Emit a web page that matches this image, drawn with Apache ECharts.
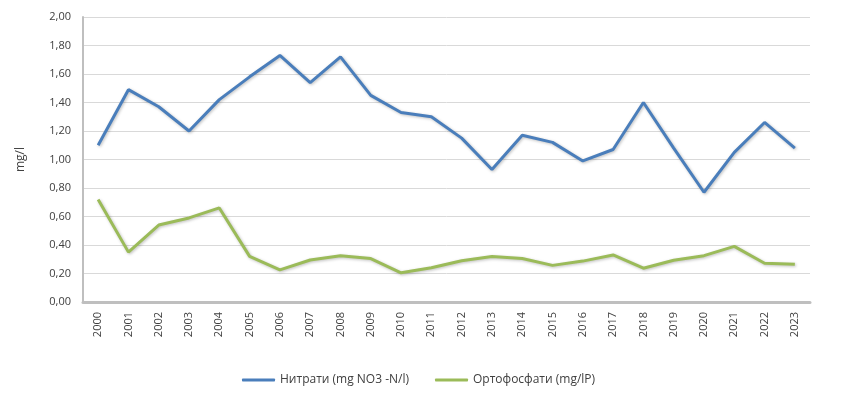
<!DOCTYPE html>
<html>
<head>
<meta charset="utf-8">
<script src="https://cdn.jsdelivr.net/npm/echarts@6/dist/echarts.min.js"></script>
<style>
  html, body { margin: 0; padding: 0; background: #fff; }
  #chart { width: 846px; height: 399px; }
</style>
</head>
<body>
<div id="chart"></div>
<script>
// years on the category axis
const years = ['2000', '2001', '2002', '2003', '2004', '2005', '2006', '2007', '2008', '2009', '2010', '2011',
  '2012', '2013', '2014', '2015', '2016', '2017', '2018', '2019', '2020', '2021', '2022', '2023']

// Нитрати (mg NO3 -N/l)
const nitrates = [1.10, 1.49, 1.37, 1.20, 1.42, 1.58, 1.73, 1.54, 1.72, 1.45, 1.33, 1.30,
  1.15, 0.93, 1.17, 1.12, 0.99, 1.07, 1.40, 1.08, 0.77, 1.05, 1.26, 1.08]

// Ортофосфати (mg/lP)
const phosphates = [0.72, 0.35, 0.54, 0.59, 0.66, 0.32, 0.225, 0.295, 0.325, 0.305, 0.205, 0.24,
  0.29, 0.32, 0.305, 0.257, 0.287, 0.33, 0.237, 0.293, 0.325, 0.39, 0.272, 0.265]

const seriesNames = ['Нитрати (mg NO3 -N/l)', 'Ортофосфати (mg/lP)']

const font = '"Open Sans", "Liberation Sans", sans-serif'
const chart = echarts.init(document.getElementById('chart'))

const lineSeries = (name, data, color) => ({
  name,
  type: 'line',
  data,
  showSymbol: false,
  symbol: 'none',
  lineStyle: {
    color,
    width: 3,
    shadowColor: 'rgba(0, 0, 0, 0.25)',
    shadowBlur: 3,
    shadowOffsetX: 1,
    shadowOffsetY: 1,
  },
  itemStyle: { color },
})

chart.setOption({
  animation: false,
  textStyle: { fontFamily: font },
  grid: {
    left: 83,
    right: 36,
    top: 17,
    bottom: 97,
  },
  legend: {
    bottom: 8,
    left: 237,
    itemWidth: 33,
    itemHeight: 3,
    itemGap: 26,
    icon: 'roundRect',
    textStyle: { fontSize: 12, color: '#404040', fontFamily: font },
    data: seriesNames,
  },
  xAxis: {
    type: 'category',
    data: years,
    boundaryGap: true,
    axisLine: { lineStyle: { color: '#bfbfbf', width: 3 } },
    axisTick: { show: false },
    axisLabel: {
      rotate: 90,
      color: '#404040',
      fontSize: 11,
      margin: 10,
      interval: 0,
    },
  },
  yAxis: {
    type: 'value',
    min: 0,
    max: 2,
    interval: 0.2,
    name: 'mg/l',
    nameLocation: 'middle',
    nameGap: 56,
    nameTextStyle: { color: '#404040', fontSize: 12 },
    axisLine: { show: true, lineStyle: { color: '#bfbfbf', width: 2 } },
    axisTick: { show: false },
    axisLabel: {
      color: '#404040',
      fontSize: 11,
      margin: 12,
      formatter: (v) => v.toFixed(2).replace('.', ','),
    },
    splitLine: { lineStyle: { color: '#d9d9d9', width: 1 } },
  },
  series: [
    lineSeries(seriesNames[0], nitrates, '#4a7ebb'),
    lineSeries(seriesNames[1], phosphates, '#9bbb59'),
  ],
})
</script>
</body>
</html>
